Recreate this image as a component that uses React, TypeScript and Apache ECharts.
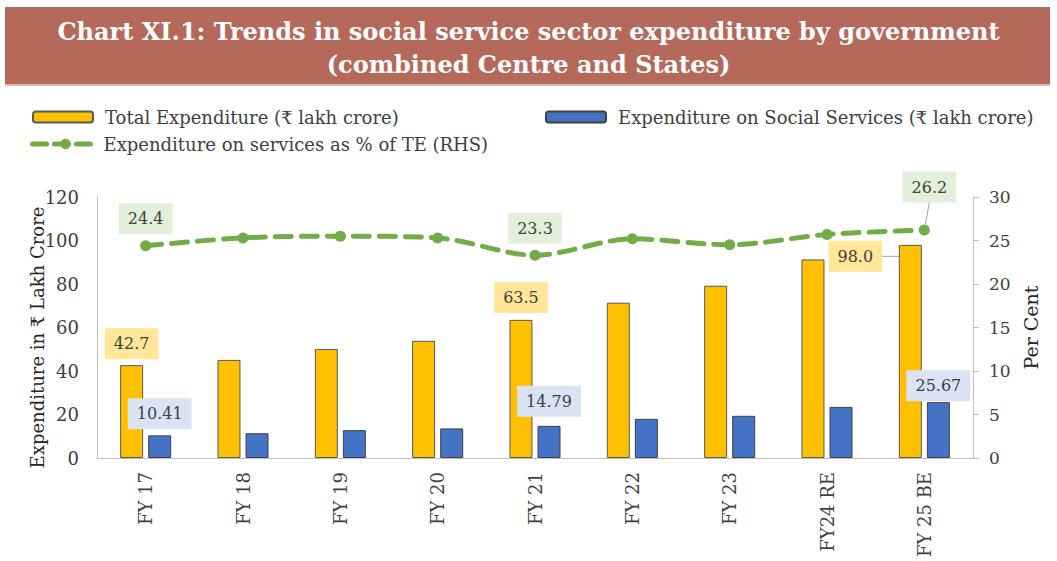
import React, { useEffect, useRef } from "react";
import * as echarts from "echarts";

const categories = ["FY 17", "FY 18", "FY 19", "FY 20", "FY 21", "FY 22", "FY 23", "FY24 RE", "FY 25 BE"];
const totalExpenditure = [42.7, 45.1, 50.1, 53.9, 63.5, 71.4, 79.2, 91.3, 98.0];
const socialServices = [10.41, 11.4, 12.8, 13.6, 14.79, 18.0, 19.4, 23.5, 25.67];
const sharePct = [24.4, 25.3, 25.5, 25.3, 23.3, 25.2, 24.5, 25.7, 26.2];
const labelledIdx = [0, 4, 8];
const leftTicks = { min: 0, max: 120, interval: 20 };
const rightTicks = { min: 0, max: 30, interval: 5 };

const titleLine1 = "Chart XI.1: Trends in social service sector expenditure by government";
const titleLine2 = "(combined Centre and States)";
const nameTE = "Total Expenditure (₹ lakh crore)";
const nameSS = "Expenditure on Social Services (₹ lakh crore)";
const namePct = "Expenditure on services as % of TE (RHS)";

const FONT = "DejaVu Serif";
const TXT = "#404040";

function labelBox(bg: string, distance: number) {
  return {
    show: true,
    position: "top",
    distance,
    fontFamily: FONT,
    fontSize: 16,
    color: TXT,
    backgroundColor: bg,
    padding: [7, 9],
    lineHeight: 17,
  };
}

export default function App() {
  const ref = useRef<HTMLDivElement>(null);
  useEffect(() => {
    document.body.style.margin = "0";
    const chart = echarts.init(ref.current!, null, { renderer: "svg" });
    const teDist = [6, 0, 0, 0, 7, 0, 0, 0, 5];
    const ssDist = [6, 0, 0, 0, 9, 0, 0, 0, 1];
    const titleStyle = {
      fontFamily: FONT,
      fontWeight: "bold",
      fontSize: 24,
      color: "#ffffff",
      lineHeight: 30,
    };
    const legendText = { fontFamily: FONT, fontSize: 18, color: TXT, padding: [0, 0, 0, 7] };
    const option: any = {
      animation: false,
      backgroundColor: "#ffffff",
      graphic: [
        { type: "rect", left: 5, top: 7, shape: { width: 1045, height: 77 }, style: { fill: "#B5695B" }, z: -1 },
        { type: "rect", left: 5, top: 84, shape: { width: 1045, height: 2 }, style: { fill: "#DDB9B0" }, z: -1 },
      ],
      title: [
        { text: titleLine1, left: "center", top: 16, padding: 0, textStyle: titleStyle },
        { text: titleLine2, left: "center", top: 49, padding: 0, textStyle: titleStyle },
      ],
      legend: [
        {
          data: [nameTE],
          left: 32,
          top: 108,
          padding: 0,
          itemWidth: 60,
          itemHeight: 11,
          textStyle: legendText,
        },
        {
          data: [nameSS],
          left: 545,
          top: 108,
          padding: 0,
          itemWidth: 60,
          itemHeight: 11,
          textStyle: legendText,
        },
        {
          data: [namePct],
          left: 30,
          top: 135,
          padding: 0,
          itemWidth: 66,
          itemHeight: 13,
          lineStyle: { width: 5, type: [14, 8], cap: "round" },
          textStyle: { ...legendText, padding: [0, 0, 0, 0] },
        },
      ],
      grid: { left: 97, right: 84, top: 197, bottom: 103, containLabel: false },
      xAxis: {
        type: "category",
        data: categories,
        axisLine: { lineStyle: { color: "#BFBFBF", width: 1 } },
        axisTick: { show: false },
        axisLabel: { rotate: 90, margin: 14, fontFamily: FONT, fontSize: 18, color: TXT },
      },
      yAxis: [
        {
          type: "value",
          ...leftTicks,
          name: "Expenditure in ₹ Lakh Crore",
          nameLocation: "middle",
          nameGap: 51,
          nameMoveOverlap: false,
          nameTextStyle: { fontFamily: FONT, fontSize: 18, color: "#262626", padding: [0, 20, 0, 0] },
          axisLine: { show: true, lineStyle: { color: "#BFBFBF" } },
          axisTick: { show: false },
          splitLine: { show: false },
          axisLabel: { margin: 18, fontFamily: FONT, fontSize: 18, color: TXT },
        },
        {
          type: "value",
          ...rightTicks,
          name: "Per Cent",
          nameLocation: "middle",
          nameGap: 44,
          nameTextStyle: { fontFamily: FONT, fontSize: 19, color: "#262626" },
          axisLine: { show: true, lineStyle: { color: "#BFBFBF" } },
          axisTick: { show: true, length: 6, lineStyle: { color: "#BFBFBF" } },
          splitLine: { show: false },
          axisLabel: { margin: 16, fontFamily: FONT, fontSize: 17, color: TXT },
        },
      ],
      series: [
        {
          name: nameTE,
          type: "bar",
          yAxisIndex: 0,
          barWidth: 23,
          barGap: "22%",
          itemStyle: { color: "#FFC000", borderColor: "#595959", borderWidth: 1 },
          data: totalExpenditure.map((v, i) =>
            labelledIdx.includes(i)
              ? {
                  value: v,
                  label: { ...labelBox("#FFE699", teDist[i]), formatter: (p: any) => p.value.toFixed(1) },
                  labelLine: i === 8 ? { show: true, lineStyle: { color: "#A6A6A6", width: 1 } } : { show: false },
                }
              : v
          ),
          labelLayout: (p: any) => (p.dataIndex === 8 ? { dx: -55, dy: 32 } : {}),
        },
        {
          name: nameSS,
          type: "bar",
          yAxisIndex: 0,
          barWidth: 23,
          itemStyle: { color: "#4472C4", borderColor: "#404040", borderWidth: 1 },
          data: socialServices.map((v, i) =>
            labelledIdx.includes(i)
              ? { value: v, label: { ...labelBox("#DAE3F3", ssDist[i]), formatter: (p: any) => p.value.toFixed(2) } }
              : v
          ),
        },
        {
          name: namePct,
          type: "line",
          yAxisIndex: 1,
          smooth: 0.3,
          symbol: "circle",
          symbolSize: 11,
          itemStyle: { color: "#70AD47" },
          lineStyle: { color: "#70AD47", width: 5, type: [16, 10], cap: "round" },
          data: sharePct.map((v, i) =>
            labelledIdx.includes(i)
              ? {
                  value: v,
                  label: { ...labelBox("#E2EFDA", 6), formatter: (p: any) => p.value.toFixed(1) },
                  labelLine: i === 8 ? { show: true, lineStyle: { color: "#A6A6A6", width: 1 } } : { show: false },
                }
              : v
          ),
          labelLayout: (p: any) => (p.dataIndex === 8 ? { dx: 5, dy: -16 } : {}),
          z: 3,
        },
      ],
    };
    chart.setOption(option);
    return () => chart.dispose();
  }, []);
  return <div ref={ref} style={{ width: 1057, height: 561 }} />;
}
